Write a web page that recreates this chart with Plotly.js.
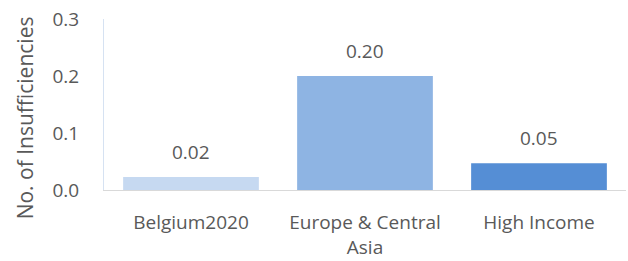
<!DOCTYPE html>
<html>
<head>
<meta charset="utf-8">
<script src="https://cdn.plot.ly/plotly-3.0.1.min.js"></script>
<style>html,body{margin:0;padding:0;background:#fff;}#chart{width:628px;height:261px;}</style>
</head>
<body>
<div id="chart"></div>
<script>
const categories = ["Belgium2020", "Europe & Central<br>Asia", "High Income"];
const values = [0.023, 0.2, 0.047];
const labels = ["0.02", "0.20", "0.05"];
const colors = ["#C6D9F1", "#8EB4E3", "#558ED5"];
const yTicks = [0, 0.1, 0.2, 0.3];
const yTickText = ["0.0", "0.1", "0.2", "0.3"];
const yTitle = "No. of Insufficiencies";

const font = "'Open Sans', 'DejaVu Sans', sans-serif";
const textColor = "#595959";

const trace = {
  type: "bar",
  x: categories,
  y: values,
  marker: {color: colors},
  hoverinfo: "none"
};

const annotations = categories.map((c, i) => ({
  x: c, y: values[i], xref: "x", yref: "y",
  text: labels[i], showarrow: false,
  yanchor: "bottom", yshift: 10,
  font: {family: font, size: 19, color: textColor}
}));
annotations.push({
  xref: "paper", yref: "paper", x: -0.151, y: 0.42,
  text: yTitle, showarrow: false, textangle: -90,
  xanchor: "center", yanchor: "middle",
  font: {family: font, size: 21, color: textColor}
});

const layout = {
  width: 628, height: 261,
  margin: {l: 104, r: 2, t: 19, b: 71},
  paper_bgcolor: "#fff", plot_bgcolor: "#fff",
  bargap: 0.22,
  showlegend: false,
  xaxis: {
    showline: true, linecolor: "#D9D9D9", linewidth: 1,
    showgrid: false, ticks: "", zeroline: false,
    ticklabelstandoff: 15,
    tickfont: {family: font, size: 19, color: textColor}
  },
  yaxis: {
    range: [0, 0.3],
    tickvals: yTicks, ticktext: yTickText,
    showline: true, linecolor: "#D6E2F2", linewidth: 1,
    showgrid: false, zeroline: false, ticks: "",
    ticklabelstandoff: 20,
    tickfont: {family: font, size: 19, color: textColor}
  },
  annotations: annotations
};

Plotly.newPlot("chart", [trace], layout, {displayModeBar: false, staticPlot: true});
</script>
</body>
</html>
